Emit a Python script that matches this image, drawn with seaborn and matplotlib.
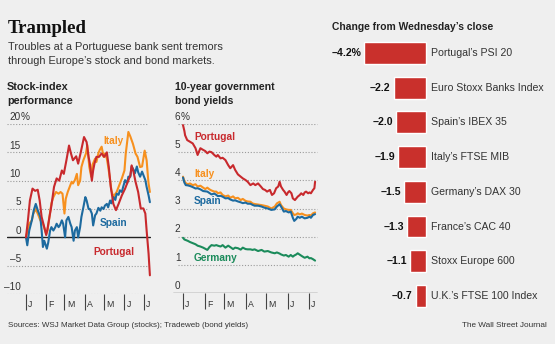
import pandas as pd
import matplotlib
matplotlib.use("Agg")
import matplotlib.pyplot as plt
import matplotlib.dates as mdates
import matplotlib.transforms as mtransforms
import seaborn as sns

# ---------------- data ----------------
START = pd.Timestamp("2014-01-01")

# Stock-index performance, % change since the start of the year (day offsets from Jan 1)
stock_pt_days = [0, 3, 6, 10, 14, 18, 21, 24, 28, 31,
                 33, 36, 39, 43, 47, 51, 55, 58, 62, 66,
                 69, 72, 77, 80, 84, 89, 93, 96, 98, 101,
                 103, 105, 108, 112, 116, 120, 124, 127, 130, 134,
                 138, 142, 147, 152, 156, 160, 162, 165, 168, 172,
                 176, 180, 183, 185, 188, 190]
stock_pt_vals = [0.0, 3.0, 6.5, 8.6, 8.2, 8.4, 6.5, 3.6, 1.8, 0.4,
                 1.5, 3.6, 5.6, 8.9, 10.4, 10.0, 11.8, 11.2, 13.6, 16.2,
                 14.8, 13.6, 14.3, 13.0, 15.0, 17.7, 16.8, 14.2, 13.0, 10.0,
                 11.8, 13.0, 14.2, 14.2, 14.8, 14.2, 15.0, 12.4, 8.9, 5.9,
                 4.8, 5.9, 7.4, 8.6, 9.8, 10.9, 12.7, 11.5, 9.8, 8.0,
                 5.1, 5.1, 4.2, 1.2, -2.9, -6.7]

stock_it_days = [0, 5, 9, 11, 15, 19, 22, 26, 31, 33,
                 36, 39, 42, 46, 50, 53, 56, 59, 61, 64,
                 67, 70, 72, 75, 78, 80, 83, 85, 88, 92,
                 94, 97, 100, 102, 106, 108, 111, 113, 116, 119,
                 121, 124, 126, 129, 131, 134, 136, 139, 142, 147,
                 151, 153, 157, 160, 164, 168, 171, 175, 178, 180,
                 182, 185, 187, 188, 190]
stock_it_vals = [0.0, 2.4, 3.0, 4.1, 5.0, 3.9, 3.0, 2.4, 0.6, 1.2,
                 3.6, 6.0, 7.1, 8.0, 7.7, 8.0, 7.7, 4.2, 6.8, 8.0,
                 8.9, 9.8, 9.5, 10.1, 11.2, 9.2, 10.0, 12.4, 13.6, 14.8,
                 16.3, 12.5, 10.7, 12.8, 13.9, 13.3, 14.8, 15.4, 16.0, 14.2,
                 14.8, 13.9, 12.5, 10.1, 8.3, 7.1, 7.5, 8.0, 8.9, 10.4,
                 11.8, 14.8, 18.6, 17.8, 16.5, 14.8, 14.2, 12.4, 12.5, 13.9,
                 15.3, 13.6, 10.7, 9.5, 8.0]

stock_es_days = [0, 2, 5, 9, 12, 15, 18, 22, 24, 26,
                 28, 32, 34, 37, 39, 42, 45, 47, 50, 52,
                 55, 57, 60, 62, 65, 68, 70, 73, 75, 78,
                 80, 83, 85, 88, 91, 93, 96, 98, 101, 103,
                 106, 108, 111, 114, 116, 119, 121, 124, 126, 129,
                 131, 134, 137, 139, 142, 144, 147, 149, 152, 155,
                 157, 160, 162, 165, 167, 170, 172, 175, 178, 180,
                 183, 185, 188, 190]
stock_es_vals = [0.0, -1.4, 1.2, 3.0, 4.8, 5.9, 4.8, 3.6, 1.2, -1.7,
                 -0.6, -2.0, -1.0, 1.2, 1.8, 1.2, 1.8, 2.4, 1.8, 2.1,
                 3.0, 2.4, 0.0, 3.0, 3.6, 2.4, 1.8, -0.6, 1.2, 1.8,
                 0.0, 1.8, 3.6, 5.3, 7.1, 6.5, 5.0, 5.0, 4.2, 2.1,
                 3.9, 4.2, 5.2, 4.7, 5.3, 5.0, 5.6, 5.9, 5.3, 6.5,
                 6.0, 7.1, 6.6, 7.7, 7.5, 8.3, 8.0, 8.9, 10.1, 9.5,
                 10.7, 10.7, 12.5, 11.9, 11.3, 12.5, 11.5, 10.7, 11.6, 11.0,
                 10.1, 8.9, 7.4, 6.2]

# 10-year government bond yields, %
bond_pt_days = [0, 2, 3, 6, 10, 14, 18, 21, 23, 25,
                29, 32, 35, 38, 41, 45, 48, 50, 54, 57,
                61, 65, 68, 72, 75, 79, 83, 86, 90, 93,
                97, 101, 104, 108, 112, 115, 118, 121, 125, 128,
                131, 134, 137, 139, 141, 144, 146, 149, 151, 153,
                156, 158, 161, 163, 165, 168, 170, 173, 175, 177,
                180, 182, 184, 187, 189, 190]
bond_pt_vals = [5.96, 5.75, 5.6, 5.43, 5.37, 5.31, 5.14, 4.9, 5.02, 5.14,
                5.08, 5.04, 4.96, 5.02, 5.0, 4.9, 4.84, 4.9, 4.78, 4.8,
                4.72, 4.54, 4.43, 4.54, 4.37, 4.21, 4.13, 4.07, 4.01, 3.95,
                3.83, 3.89, 3.83, 3.89, 3.78, 3.69, 3.66, 3.6, 3.66, 3.48,
                3.54, 3.72, 3.78, 3.95, 3.78, 3.66, 3.6, 3.48, 3.57, 3.62,
                3.54, 3.36, 3.3, 3.36, 3.42, 3.48, 3.54, 3.48, 3.57, 3.6,
                3.54, 3.57, 3.54, 3.66, 3.72, 3.95]

bond_days = [0, 2, 4, 7, 10, 14, 18, 21, 25, 29,
             32, 35, 38, 41, 45, 48, 50, 54, 57, 61,
             65, 68, 72, 75, 79, 83, 86, 90, 93, 97,
             100, 103, 108, 113, 117, 122, 127, 132, 135, 139,
             141, 145, 148, 152, 155, 158, 160, 163, 165, 168,
             171, 175, 179, 182, 184, 187, 190]
bond_it_vals = [4.13, 3.97, 3.9, 3.86, 3.89, 3.83, 3.86, 3.78, 3.81, 3.74,
                3.69, 3.74, 3.68, 3.64, 3.6, 3.6, 3.54, 3.57, 3.48, 3.43,
                3.46, 3.38, 3.43, 3.36, 3.38, 3.3, 3.34, 3.27, 3.25, 3.24,
                3.18, 3.16, 3.14, 3.12, 3.1, 3.07, 3.0, 3.07, 3.18, 3.24,
                3.12, 3.0, 2.97, 2.95, 2.95, 2.83, 2.77, 2.79, 2.83, 2.79,
                2.82, 2.77, 2.75, 2.77, 2.75, 2.83, 2.86]
bond_es_vals = [4.1, 3.92, 3.83, 3.82, 3.8, 3.76, 3.71, 3.72, 3.68, 3.62,
                3.61, 3.6, 3.55, 3.5, 3.53, 3.48, 3.44, 3.45, 3.42, 3.36,
                3.37, 3.32, 3.28, 3.29, 3.25, 3.22, 3.19, 3.21, 3.17, 3.17,
                3.13, 3.1, 3.1, 3.07, 3.03, 3.0, 2.95, 2.97, 3.07, 3.15,
                3.07, 2.89, 2.91, 2.86, 2.89, 2.67, 2.56, 2.63, 2.71, 2.67,
                2.71, 2.65, 2.67, 2.71, 2.67, 2.77, 2.8]
bond_de_vals = [1.96, 1.9, 1.88, 1.85, 1.81, 1.77, 1.73, 1.68, 1.65, 1.61,
                1.57, 1.53, 1.63, 1.7, 1.68, 1.7, 1.68, 1.65, 1.7, 1.61,
                1.68, 1.63, 1.56, 1.61, 1.59, 1.54, 1.61, 1.56, 1.55, 1.55,
                1.53, 1.55, 1.49, 1.53, 1.47, 1.49, 1.44, 1.41, 1.44, 1.4,
                1.37, 1.33, 1.35, 1.29, 1.35, 1.29, 1.33, 1.37, 1.41, 1.36,
                1.31, 1.25, 1.29, 1.23, 1.24, 1.2, 1.15]

# Change from Wednesday's close, %
bar_labels = ["Portugal\u2019s PSI 20", "Euro Stoxx Banks Index", "Spain\u2019s IBEX 35",
              "Italy\u2019s FTSE MIB", "Germany\u2019s DAX 30", "France\u2019s CAC 40",
              "Stoxx Europe 600", "U.K.\u2019s FTSE 100 Index"]
bar_changes = [-4.2, -2.2, -2.0, -1.9, -1.5, -1.3, -1.1, -0.7]

month_letters = ["J", "F", "M", "A", "M", "J", "J"]

# ---------------- style ----------------
BG = "#efefef"
RED = "#c8292d"
ORANGE = "#f7901e"
BLUE = "#1d6a9f"
GREEN = "#1b8b5b"
BAR_RED = "#c9302c"
INK = "#222222"
GRID = "#9a9a9a"

sns.set_theme(style="white")
plt.rcParams["font.family"] = ["Liberation Sans", "DejaVu Sans"]
plt.rcParams["axes.facecolor"] = BG

W, H = 555, 344
fig = plt.figure(figsize=(W / 100, H / 100), dpi=100, facecolor=BG)


def add_ax(l, t, r, b):
    ax = fig.add_axes([l / W, 1 - b / H, (r - l) / W, (b - t) / H])
    ax.set_facecolor("none")
    for s in ax.spines.values():
        s.set_visible(False)
    return ax


def ftext(x, y, s, **kw):
    fig.text(x / W, 1 - y / H, s, **kw)


def to_dates(days):
    return START + pd.to_timedelta(days, unit="D")


def frame(days, vals, name):
    return pd.DataFrame({"date": to_dates(days), "value": vals, "name": name})


months = pd.date_range("2014-01-01", periods=7, freq="MS")


def month_axis(ax, label_drop):
    ax.set_xticks(months)
    ax.tick_params(axis="x", which="major", bottom=True, direction="out", length=11.5,
                   width=0.8, color="#444444", labelbottom=False, pad=0)
    ax.set_yticks([])
    tr = mtransforms.offset_copy(
        mtransforms.blended_transform_factory(ax.transData, ax.transAxes),
        fig=fig, x=2.3, y=-label_drop, units="dots")
    for m, letter in zip(months, month_letters):
        ax.text(mdates.date2num(m), 0, letter, transform=tr, ha="left", va="baseline",
                fontsize=6.3, color="#333333")


def y_labels(ax, values, x_frac, unit_value, dy=3.5):
    tr = mtransforms.offset_copy(
        mtransforms.blended_transform_factory(ax.transAxes, ax.transData),
        fig=fig, x=0, y=dy, units="dots")
    for v in values:
        s = f"{v:g}".replace("-", "\u2013")
        ax.text(x_frac, v, s, transform=tr, ha="right", va="baseline",
                fontsize=7.2, color="#333333")
        if v == unit_value:
            ax.text(x_frac, v, "%", transform=tr, ha="left", va="baseline",
                    fontsize=7.2, color="#333333")


dots = (0, (1, 1.6))

# ---------------- headline ----------------
ftext(8, 33, "Trampled", fontsize=13.5, fontweight="bold", color="#111111",
      family=["Liberation Serif", "DejaVu Serif"], va="baseline")
ftext(8, 50, "Troubles at a Portuguese bank sent tremors", fontsize=7.9,
      color="#333333", va="baseline")
ftext(8, 63.5, "through Europe\u2019s stock and bond markets.", fontsize=7.9,
      color="#333333", va="baseline")

ftext(7, 90, "Stock-index", fontsize=7.8, fontweight="bold", color=INK, va="baseline")
ftext(7, 103.5, "performance", fontsize=7.8, fontweight="bold", color=INK, va="baseline")
ftext(175, 90, "10-year government", fontsize=7.6, fontweight="bold", color=INK, va="baseline")
ftext(175, 103.5, "bond yields", fontsize=7.6, fontweight="bold", color=INK, va="baseline")

# ---------------- stock panel ----------------
ax1 = add_ax(7, 124, 151, 294)
stock_df = pd.concat([
    frame(stock_it_days, stock_it_vals, "Italy"),
    frame(stock_es_days, stock_es_vals, "Spain"),
    frame(stock_pt_days, stock_pt_vals, "Portugal"),
], ignore_index=True)
for v in [-10, -5, 5, 10, 15, 20]:
    ax1.axhline(v, xmin=0, xmax=141 / 144, color=GRID, lw=0.8, ls=dots, zorder=0)
ax1.axhline(0, xmin=0, xmax=143 / 144, color=INK, lw=1.0, zorder=1)
sns.lineplot(data=stock_df, x="date", y="value", hue="name",
             hue_order=["Italy", "Spain", "Portugal"],
             palette={"Italy": ORANGE, "Spain": BLUE, "Portugal": RED},
             estimator=None, linewidth=1.5, legend=False, ax=ax1, zorder=3)
ax1.set_ylim(-10, 20)
ax1.set_xlim(START - pd.Timedelta(days=29.1), START + pd.Timedelta(days=191.7))
ax1.set_xlabel("")
ax1.set_ylabel("")
month_axis(ax1, 13.2)
y_labels(ax1, [20, 15, 10, 5, 0, -5, -10], 14 / 144, 20)

ftext(103, 144, "Italy", fontsize=7.3, fontweight="bold", color=ORANGE, va="baseline")
ftext(100, 226, "Spain", fontsize=7.3, fontweight="bold", color=BLUE, va="baseline")
ftext(93, 255, "Portugal", fontsize=7.3, fontweight="bold", color=RED, va="baseline")

# ---------------- bond panel ----------------
ax2 = add_ax(173, 124, 318, 293)
bond_df = pd.concat([
    frame(bond_days, bond_it_vals, "Italy"),
    frame(bond_days, bond_es_vals, "Spain"),
    frame(bond_pt_days, bond_pt_vals, "Portugal"),
    frame(bond_days, bond_de_vals, "Germany"),
], ignore_index=True)
for v in [1, 2, 3, 4, 5, 6]:
    ax2.axhline(v, xmin=5 / 145, xmax=144 / 145, color=GRID, lw=0.8, ls=dots, zorder=0)
ax2.axhline(0, xmin=0, xmax=144 / 145, color="#6a6a6a", lw=1.0, zorder=1)
sns.lineplot(data=bond_df, x="date", y="value", hue="name",
             hue_order=["Italy", "Spain", "Portugal", "Germany"],
             palette={"Italy": ORANGE, "Spain": BLUE, "Portugal": RED, "Germany": GREEN},
             estimator=None, linewidth=1.5, legend=False, ax=ax2, zorder=3)
ax2.set_ylim(0, 6)
ax2.set_xlim(START - pd.Timedelta(days=14.4), START + pd.Timedelta(days=194.2))
ax2.set_xlabel("")
ax2.set_ylabel("")
month_axis(ax2, 14.3)
y_labels(ax2, [6, 5, 4, 3, 2, 1, 0], 7.5 / 145, 6, dy=4.2)

ftext(194, 140, "Portugal", fontsize=7.3, fontweight="bold", color=RED, va="baseline")
ftext(194, 177, "Italy", fontsize=7.3, fontweight="bold", color=ORANGE, va="baseline")
ftext(194, 204.5, "Spain", fontsize=7.3, fontweight="bold", color=BLUE, va="baseline")
ftext(194, 261, "Germany", fontsize=7.3, fontweight="bold", color=GREEN, va="baseline")

# ---------------- bar panel ----------------
ftext(332, 29.5, "Change from Wednesday\u2019s close", fontsize=7.4, fontweight="bold",
      color=INK, va="baseline")
ax3 = add_ax(330, 35.65, 555, 313.25)
bar_df = pd.DataFrame({"index": bar_labels, "change": bar_changes})
sns.barplot(data=bar_df, x="change", y="index", orient="h", color=BAR_RED,
            saturation=1, width=0.634, ax=ax3)
ax3.set_xlim(-6.504, 8.740)
ax3.set_ylim(len(bar_labels) - 0.5, -0.5)
ax3.set_xticks([])
ax3.set_yticks([])
ax3.set_xlabel("")
ax3.set_ylabel("")
val_tr = mtransforms.offset_copy(ax3.transData, fig=fig, x=-3, y=0, units="dots")
name_tr = mtransforms.offset_copy(ax3.transData, fig=fig, x=5, y=0, units="dots")
for i, (name, v) in enumerate(zip(bar_labels, bar_changes)):
    txt = f"\u2013{abs(v):.1f}" + ("%" if i == 0 else "")
    ax3.text(v, i, txt, transform=val_tr, ha="right", va="center", fontsize=7.6,
             fontweight="bold", color="#111111")
    ax3.text(0, i, name, transform=name_tr, ha="left", va="center", fontsize=7.6,
             color="#333333")

# ---------------- footer ----------------
ftext(8, 327, "Sources: WSJ Market Data Group (stocks); Tradeweb (bond yields)",
      fontsize=5.75, color="#333333", va="baseline")
ftext(547, 327, "The Wall Street Journal", fontsize=5.85, color="#333333",
      va="baseline", ha="right")

fig.savefig("out.png", dpi=100, facecolor=BG)
